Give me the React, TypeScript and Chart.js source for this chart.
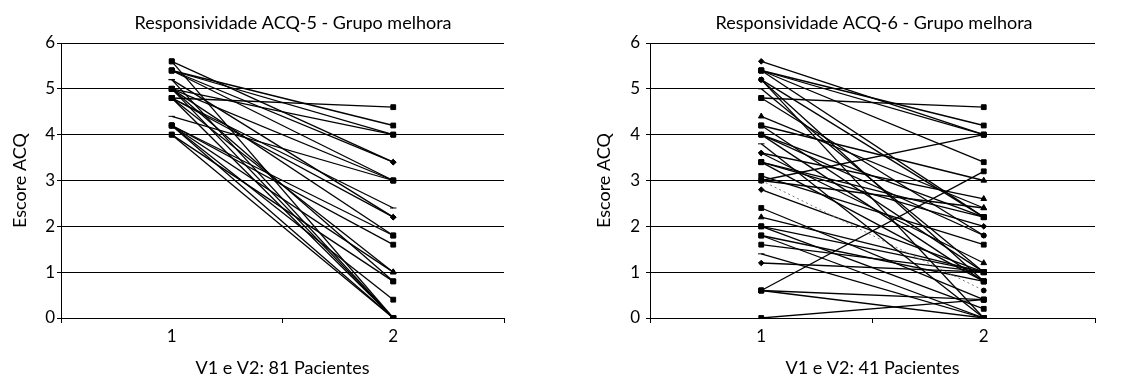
import React, { useEffect, useRef } from 'react';
import { Chart, registerables } from 'chart.js';

Chart.register(...registerables);

// ---------- data ----------
const xCategories = ['1', '2'];
const yTickValues = [0, 1, 2, 3, 4, 5, 6];

// ACQ-5 panel: score at visit 1 and visit 2 for each patient line
const acq5Before = [5.6, 5.6, 5.4, 5.4, 5.4, 5.4, 5.2, 5.2, 5.0, 5.0, 5.0, 5.0, 5.0, 4.8, 4.8, 4.8, 4.8, 4.8, 4.4, 4.2, 4.2, 4.2, 4.2, 4.2, 4.0, 4.0];
const acq5After = [3.4, 0.0, 4.2, 4.0, 3.4, 3.0, 2.2, 0.0, 4.0, 3.0, 1.8, 0.8, 0.0, 4.6, 2.4, 2.2, 1.0, 0.0, 3.0, 1.8, 1.6, 1.0, 0.4, 0.0, 0.8, 0.0];
const acq5MarkerV1 = ['rect', 'rect', 'rect', 'rect', 'rect', 'rect', 'line', 'line', 'rect', 'rect', 'rect', 'rect', 'rect', 'rect', 'rect', 'rect', 'rect', 'rect', 'line', 'rect', 'rect', 'rectRot', 'rect', 'rect', 'rect', 'rect'];
const acq5MarkerV2 = ['rectRot', 'rect', 'rect', 'rect', 'rectRot', 'rect', 'rectRot', 'rect', 'rect', 'rect', 'rect', 'rect', 'rect', 'rect', 'line', 'rectRot', 'triangle', 'rect', 'rect', 'rect', 'rect', 'triangle', 'rect', 'rect', 'rect', 'rect'];
const acq5Dotted: number[] = [];

// ACQ-6 panel
const acq6Before = [5.6, 5.4, 5.4, 5.4, 5.2, 5.2, 5.0, 4.8, 4.8, 4.4, 4.2, 4.2, 4.0, 4.0, 3.8, 3.6, 3.6, 3.4, 3.4, 3.4, 3.1, 3.0, 3.0, 3.0, 2.8, 2.4, 2.2, 2.0, 2.0, 1.8, 1.8, 1.6, 1.4, 1.2, 0.6, 0.6, 0.6, 0.0, 5.4, 4.0, 5.2];
const acq6After = [4.0, 4.2, 3.4, 2.2, 0.8, 0.0, 1.0, 4.6, 1.8, 2.4, 3.0, 1.0, 2.2, 0.8, 0.0, 2.6, 1.2, 2.2, 2.0, 0.8, 1.6, 4.0, 0.6, 2.4, 1.0, 0.4, 1.0, 1.0, 0.2, 0.8, 0.0, 1.0, 0.0, 1.0, 3.2, 0.4, 0.0, 0.4, 4.0, 1.8, 2.2];
const acq6MarkerV1 = ['rectRot', 'rect', 'rect', 'rect', 'circle', 'circle', 'line', 'rect', 'rect', 'triangle', 'rect', 'rect', 'rect', 'circle', 'line', 'rectRot', 'rectRot', 'rect', 'rect', 'rect', 'rect', 'rect', 'circle', 'rectRot', 'rectRot', 'rect', 'triangle', 'rect', 'rect', 'rect', 'rect', 'rect', 'line', 'rectRot', 'rect', 'rect', 'rect', 'rect', 'rect', 'rect', 'circle'];
const acq6MarkerV2 = ['rect', 'rect', 'rect', 'rect', 'rect', 'rect', 'rect', 'rect', 'circle', 'triangle', 'triangle', 'rect', 'rect', 'rect', 'rect', 'triangle', 'triangle', 'rect', 'rectRot', 'rect', 'rect', 'rect', 'circle', 'triangle', 'rect', 'rect', 'rect', 'rect', 'rect', 'rect', 'rect', 'rect', 'rect', 'rect', 'rect', 'rect', 'rect', 'rect', 'rect', 'circle', 'rect'];
const acq6Dotted = [22];

const FONT = 'Lato, "Open Sans", sans-serif';

type PanelProps = {
  title: string;
  xTitle: string;
  before: number[];
  after: number[];
  markerV1: string[];
  markerV2: string[];
  dotted: number[];
  leftPad: number;
  yWidth: number;
  rightWidth: number;
  yTitlePad: number;
  yLabelPad: number;
};

function radiusFor(style: string): number {
  switch (style) {
    case 'rect': return 3.4;
    case 'rectRot': return 2.8;
    case 'triangle': return 3.3;
    case 'circle': return 2.4;
    case 'line': return 3.2;
    default: return 3;
  }
}

function Panel(p: PanelProps) {
  const ref = useRef<HTMLCanvasElement | null>(null);
  useEffect(() => {
    if (!ref.current) return;
    const datasets = p.before.map((b, i) => {
      const isDotted = p.dotted.includes(i);
      return {
        data: [
          { x: 1, y: b },
          { x: 2, y: p.after[i] },
        ],
        borderColor: isDotted ? '#777' : '#000',
        borderWidth: isDotted ? 1 : 1.3,
        borderDash: isDotted ? [2, 3] : [],
        pointStyle: [p.markerV1[i], p.markerV2[i]],
        pointRadius: [radiusFor(p.markerV1[i]), radiusFor(p.markerV2[i])],
        pointBackgroundColor: '#000',
        pointBorderColor: '#000',
        pointBorderWidth: 1,
        fill: false,
        tension: 0,
      };
    });
    const chart = new Chart(ref.current, {
      type: 'line',
      data: { datasets } as any,
      options: {
        animation: false,
        responsive: false,
        devicePixelRatio: 1,
        events: [],
        layout: { padding: { left: p.leftPad, right: 0, top: 0, bottom: 0 } },
        plugins: {
          legend: { display: false },
          tooltip: { enabled: false },
          title: {
            display: true,
            text: p.title,
            color: '#000',
            font: { family: FONT, size: 18, weight: 'normal' },
            padding: { top: 12, bottom: 9.4 },
          },
        },
        scales: {
          x: {
            type: 'linear',
            min: 0.5,
            max: 2.5,
            afterBuildTicks: (s: any) => {
              s.ticks = [0.5, 1, 1.5, 2, 2.5].map((value) => ({ value }));
            },
            afterFit: (s: any) => {
              s.height = 60;
            },
            grid: {
              drawOnChartArea: false,
              drawTicks: true,
              tickLength: 5,
              lineWidth: 1,
              color: (ctx: any) =>
                ctx.tick && Number.isInteger(ctx.tick.value) ? 'rgba(0,0,0,0)' : '#000',
            },
            border: { display: true, color: '#000', width: 1 },
            ticks: {
              autoSkip: false,
              maxRotation: 0,
              padding: 3,
              color: '#000',
              font: { family: FONT, size: 17 },
              callback: (v: any) => (Number.isInteger(v) ? xCategories[v - 1] : ''),
            },
            title: {
              display: true,
              text: p.xTitle,
              color: '#000',
              font: { family: FONT, size: 18 },
              padding: { top: 0, bottom: -0.5 },
            },
          },
          y: {
            type: 'linear',
            min: 0,
            max: 6,
            afterBuildTicks: (s: any) => {
              s.ticks = yTickValues.map((value) => ({ value }));
            },
            afterFit: (s: any) => {
              s.width = p.yWidth;
            },
            grid: { color: '#000', lineWidth: 1, drawTicks: true, tickLength: 4 },
            border: { display: true, color: '#000', width: 1 },
            ticks: {
              padding: p.yLabelPad,
              color: '#000',
              font: { family: FONT, size: 17 },
              callback: (v: any) => String(v),
            },
            title: {
              display: true,
              text: 'Escore ACQ',
              color: '#000',
              font: { family: FONT, size: 18 },
              padding: { top: p.yTitlePad, bottom: 0 },
            },
          },
          yRight: {
            type: 'linear',
            position: 'right',
            min: 0,
            max: 6,
            afterFit: (s: any) => {
              s.width = p.rightWidth;
            },
            grid: { display: false, drawTicks: false },
            border: { display: false },
            ticks: { display: false },
          },
        },
      } as any,
    });
    return () => chart.destroy();
  }, []);
  return <canvas ref={ref} width={564} height={378} style={{ display: 'block', width: 564, height: 378 }} />;
}

export default function App() {
  return (
    <div style={{ position: 'fixed', left: 0, top: 0, width: 1128, height: 378, display: 'flex', background: '#fff' }}>
      <Panel
        title="Responsividade ACQ-5 - Grupo melhora"
        xTitle="V1 e V2: 81 Pacientes"
        before={acq5Before}
        after={acq5After}
        markerV1={acq5MarkerV1}
        markerV2={acq5MarkerV2}
        dotted={acq5Dotted}
        leftPad={22}
        yWidth={39}
        rightWidth={60}
        yTitlePad={-13}
        yLabelPad={2}
      />
      <Panel
        title="Responsividade ACQ-6 - Grupo melhora"
        xTitle="V1 e V2: 41 Pacientes"
        before={acq6Before}
        after={acq6After}
        markerV1={acq6MarkerV1}
        markerV2={acq6MarkerV2}
        dotted={acq6Dotted}
        leftPad={56}
        yWidth={30}
        rightWidth={33}
        yTitlePad={-27}
        yLabelPad={6}
      />
    </div>
  );
}
